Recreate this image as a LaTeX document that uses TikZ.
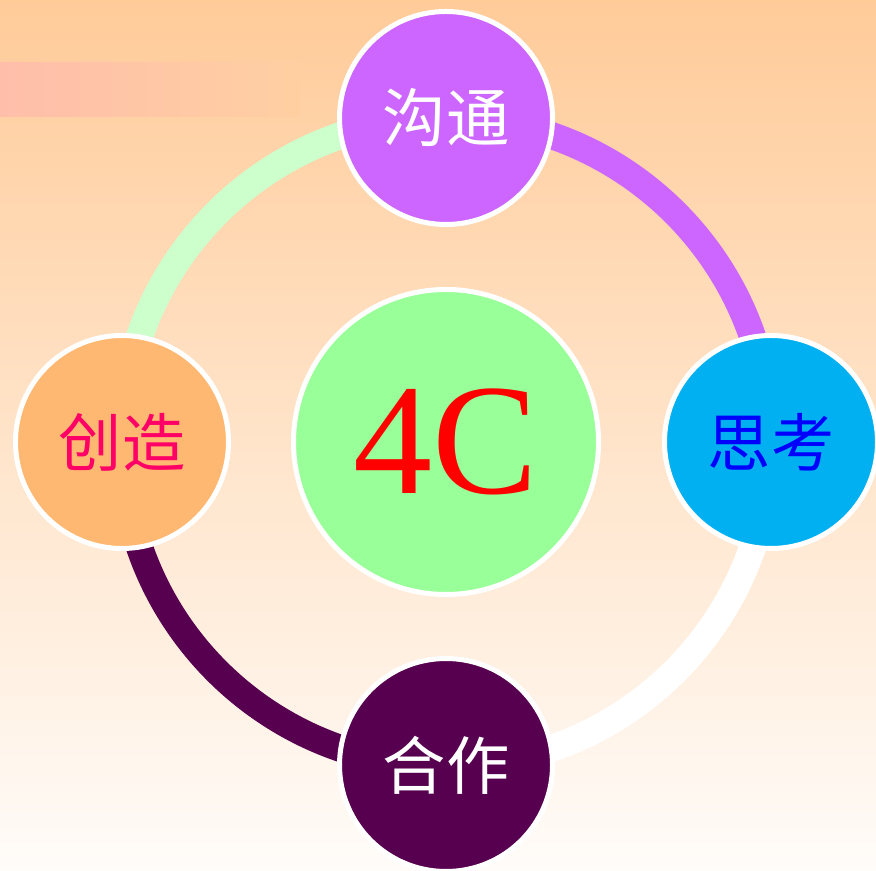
\documentclass[tikz,border=0pt]{standalone}
\usepackage{fontspec}
\setmainfont{Liberation Serif}
\newfontfamily\cjk{Noto Sans CJK SC}
\definecolor{bgtop}{HTML}{FFCB99}
\definecolor{bgbot}{HTML}{FFFCF9}
\definecolor{barL}{HTML}{FFBEAA}
\definecolor{ringgreen}{HTML}{CCFFCC}
\definecolor{ringpurple}{HTML}{CC66FF}
\definecolor{ringdark}{HTML}{570050}
\definecolor{skyblue}{HTML}{00B0F0}
\definecolor{peach}{HTML}{FFB871}
\definecolor{rosered}{HTML}{FF0066}
\definecolor{midgreen}{HTML}{99FF99}
\tikzset{
  ball/.style={circle, draw=white, line width=0.05cm, inner sep=0pt, outer sep=0pt, minimum size=2.13cm},
  cjklabel/.style={font=\cjk\fontsize{18}{18}\selectfont},
  ring/.style={line width=0.27cm}
}
\begin{document}
\begin{tikzpicture}
\useasboundingbox (0,0) rectangle (8.76,8.70);
\shade[top color=bgtop, bottom color=bgbot] (0,0) rectangle (8.76,8.70);
\shade[left color=barL, right color=bgtop!91!bgbot] (0,7.53) rectangle (3.0,8.07);
\coordinate (C) at (4.46,4.28);
% ring arcs
\draw[ring, ringpurple] (C) ++(0:3.24) arc[start angle=0, end angle=90, radius=3.24cm];
\draw[ring, ringgreen] (C) ++(90:3.24) arc[start angle=90, end angle=180, radius=3.24cm];
\draw[ring, ringdark] (C) ++(180:3.24) arc[start angle=180, end angle=270, radius=3.24cm];
\draw[ring, white] (C) ++(270:3.24) arc[start angle=270, end angle=360, radius=3.24cm];
% nodes
\node[ball, fill=midgreen, minimum size=3.05cm, font=\fontsize{45}{45}\selectfont, text=red] (center) at (C) {4C};
\node[ball, fill=ringpurple, cjklabel, text=white] (top) at (4.46,7.52) {沟通};
\node[ball, fill=skyblue, cjklabel, text=blue] (right) at (7.71,4.28) {思考};
\node[ball, fill=peach, cjklabel, text=rosered] (left) at (1.22,4.28) {创造};
\node[ball, fill=ringdark, cjklabel, text=white] (bottom) at (4.46,1.05) {合作};
\end{tikzpicture}
\end{document}
